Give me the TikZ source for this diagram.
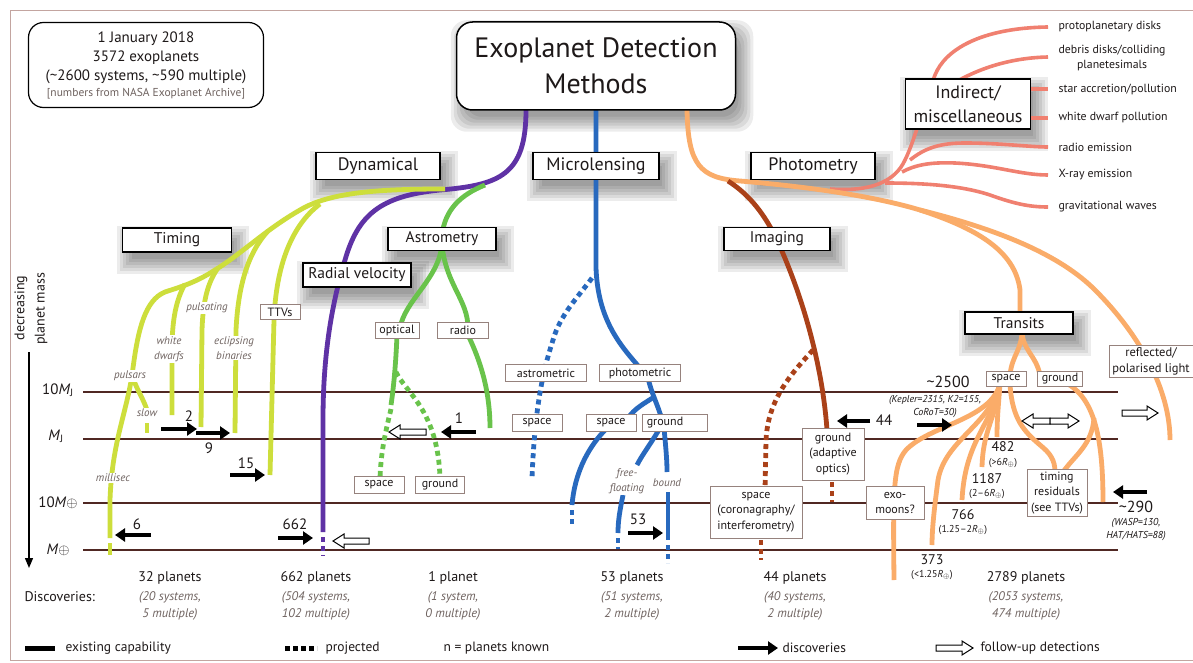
\documentclass[tikz,border=0pt]{standalone}
\usepackage{fontspec}
\setmainfont{PT Sans}
\usetikzlibrary{arrows.meta}
\pgfdeclarelayer{shadowlayer}
\pgfsetlayers{shadowlayer,main}
\definecolor{ylw}{RGB}{205,222,60}
\definecolor{prp}{RGB}{95,50,165}
\definecolor{grn}{RGB}{105,195,75}
\definecolor{blu}{RGB}{40,105,190}
\definecolor{brn}{RGB}{170,65,25}
\definecolor{org}{RGB}{250,172,105}
\definecolor{slm}{RGB}{240,128,112}
\definecolor{masscol}{RGB}{80,40,35}
\definecolor{labgray}{RGB}{110,98,95}
\definecolor{boxgray}{RGB}{150,130,125}
\definecolor{framecol}{RGB}{195,165,160}
\definecolor{txt}{RGB}{30,25,25}
\newcommand\hollowarr[3]{%
  \pgfmathsetmacro\myhd{(#2>#1)?11:-11}%
  \draw[hollow] ({#1},{#3-3}) -- ({#2-\myhd},{#3-3}) -- ({#2-\myhd},{#3-7}) -- ({#2},{#3}) -- ({#2-\myhd},{#3+7}) -- ({#2-\myhd},{#3+3}) -- ({#1},{#3+3}) -- cycle;}
\newcommand\discarr[3]{\draw[discarrow] ({#1},{#3}) -- ({#2},{#3});}
\newcommand\discgroup[5]{%
  \node[discl] (#5a) at (#1,578) {#2};
  \node[discit] (#5b) at (#1,597) {#3};
  \node[discit] (#5c) at (#1,614) {#4};}
\tikzset{
  every node/.style={text=txt},
  massline/.style={draw=masscol, line width=1.1pt},
  ylwline/.style={draw=ylw, line width=4.8pt},
  prpline/.style={draw=prp, line width=4.8pt},
  grnline/.style={draw=grn, line width=4.8pt},
  bluline/.style={draw=blu, line width=4.8pt},
  brnline/.style={draw=brn, line width=4.8pt},
  orgline/.style={draw=org, line width=4.8pt},
  slmline/.style={draw=slm, line width=3.6pt},
  dots/.style={dash pattern=on 5pt off 4pt},
  bigbox/.style={draw=black, line width=1.3pt, fill=white, inner sep=0pt, align=center},
  bigA/.style={bigbox, font=\fontsize{18}{24}\selectfont},
  bigB/.style={bigbox, font=\fontsize{15.5}{18}\selectfont},
  smallbox/.style={draw=boxgray, line width=0.8pt, fill=white, inner sep=0pt, align=center, font=\fontsize{12}{15.5}\selectfont},
  itlab/.style={font=\fontsize{11}{15}\selectfont\itshape, text=labgray, fill=white, inner sep=1pt, align=center},
  num/.style={font=\fontsize{15}{18}\selectfont},
  snum/.style={font=\fontsize{14}{16}\selectfont},
  subl/.style={font=\fontsize{10}{12}\selectfont},
  notel/.style={font=\fontsize{10}{13}\selectfont\itshape, align=center},
  rlab/.style={font=\fontsize{11.8}{15}\selectfont, anchor=west, align=center},
  discl/.style={font=\fontsize{14}{17}\selectfont},
  discit/.style={font=\fontsize{12.5}{16}\selectfont\itshape, text=labgray},
  leg/.style={font=\fontsize{13.5}{16}\selectfont, anchor=west},
  discarrow/.style={line width=4.5pt, -{Triangle[length=10pt,width=13pt]}},
  hollow/.style={draw=black, line width=1pt, fill=white, line join=miter},
}
\begin{document}
\begin{tikzpicture}[x=1pt,y=-1pt,line cap=butt]
\useasboundingbox (0,0) rectangle (1193,663);
\draw[framecol, line width=0.9pt] (1193,10) -- (10,10) -- (10,660) -- (1193,660);

% mass levels
\foreach \yy in {392,439,503,550} { \draw[massline] (83,\yy) -- (1118,\yy); }
\node[font=\fontsize{15}{18}\selectfont] (m1) at (58,390) {10\textit{M}\textsubscript{J}};
\node[font=\fontsize{15}{18}\selectfont] (m2) at (56,436) {\textit{M}\textsubscript{J}};
\node[font=\fontsize{15}{18}\selectfont] (m3) at (58,503) {10\textit{M}$\oplus$};
\node[font=\fontsize{15}{18}\selectfont] (m4) at (58,550) {\textit{M}$\oplus$};
\node[font=\fontsize{14}{17}\selectfont, rotate=90] (ax1) at (21,308) {decreasing};
\node[font=\fontsize{14}{17}\selectfont, rotate=90] (ax2) at (41,309) {planet mass};
\draw[line width=1.3pt, -{Triangle[length=10pt,width=8pt]}] (29,352) -- (29,568);

% ---------- indirect (salmon)
\draw[slmline] (830,189) .. controls (870,192) and (895,182) .. (905,160) .. controls (915,140) and (925,100) .. (935,75) .. controls (945,50) and (980,28) .. (1048,27);
\draw[slmline] (930,100) .. controls (960,75) and (1000,58) .. (1048,57);
\draw[slmline] (1025,89) -- (1048,89);
\draw[slmline] (1025,118) -- (1048,118);
\draw[slmline] (910,160) .. controls (925,148) and (940,143) .. (965,143) .. controls (1000,143) and (1030,147) .. (1048,147);
\draw[slmline] (902,172) .. controls (915,165) and (930,162) .. (955,163) .. controls (995,165) and (1020,175) .. (1048,175);
\draw[slmline] (885,183) .. controls (920,183) and (960,185) .. (990,195) .. controls (1015,204) and (1030,207) .. (1048,207);

% ---------- purple (radial velocity)
\draw[prpline] (526,110) .. controls (526,175) and (500,185) .. (440,190) .. controls (380,196) and (358,215) .. (345,260) .. controls (333,300) and (323,350) .. (323,420) -- (323,532);
\draw[prpline,dots] (323,537) -- (323,556);

% ---------- yellow (timing)
\draw[ylwline] (445,189) .. controls (380,189) and (330,192) .. (300,210) .. controls (265,230) and (240,255) .. (215,270) .. controls (195,283) and (180,287) .. (165,292) .. controls (145,300) and (138,330) .. (133,368) .. controls (128,410) and (112,440) .. (110,500) -- (110,538);
\draw[ylwline] (110,543) -- (110,555);
\draw[ylwline] (133,378) .. controls (137,390) and (143,398) .. (147,410);
\draw[ylwline] (147,423) -- (147,433);
\draw[ylwline] (185,284) .. controls (176,300) and (172,320) .. (172,350) -- (172,415);
\draw[ylwline] (218,268) .. controls (208,282) and (203,300) .. (202,330) -- (201,427);
\draw[ylwline] (268,231) .. controls (246,255) and (238,290) .. (236,330) -- (235,433);
\draw[ylwline] (320,204) .. controls (292,225) and (276,265) .. (274,320) -- (270,475);

% ---------- green (astrometry)
\draw[grnline] (485,185) .. controls (460,195) and (445,210) .. (442,235);
\draw[grnline] (442,245) .. controls (438,280) and (405,300) .. (400,328);
\draw[grnline] (442,245) .. controls (446,285) and (468,300) .. (468,328);
\draw[grnline] (397,335) .. controls (396,360) and (394,385) .. (391,405);
\draw[grnline,dots] (391,409) .. controls (386,430) and (381,450) .. (380,478);
\draw[grnline,dots] (396,372) .. controls (405,392) and (438,410) .. (440,478);
\draw[grnline] (468,335) .. controls (480,360) and (490,390) .. (490,428);

% ---------- blue (microlensing)
\draw[bluline] (596,110) -- (596,268) .. controls (598,320) and (620,345) .. (640,368);
\draw[bluline,dots] (592,278) .. controls (578,297) and (560,315) .. (553,340) .. controls (545,365) and (535,400) .. (532,478);
\draw[bluline] (648,378) .. controls (652,395) and (658,405) .. (662,420);
\draw[bluline] (654,397) .. controls (645,403) and (635,408) .. (628,418);
\draw[bluline] (607,428) .. controls (590,445) and (575,470) .. (572,505);
\draw[bluline,dots] (572,510) -- (572,527);
\draw[bluline] (660,428) .. controls (650,445) and (642,455) .. (637,465);
\draw[bluline] (623,495) .. controls (620,510) and (618,520) .. (618,533);
\draw[bluline,dots] (618,538) -- (618,549);
\draw[bluline] (664,428) .. controls (666,450) and (667,460) .. (667,472);
\draw[bluline] (668,492) -- (668,540);
\draw[bluline,dots] (668,545) -- (668,563);

% ---------- orange (photometry / transits)
\draw[orgline] (687,110) .. controls (688,165) and (700,178) .. (740,181) .. controls (800,186) and (870,195) .. (920,210) .. controls (975,228) and (1015,250) .. (1020,290) -- (1020,315);
\draw[orgline] (920,210) .. controls (1000,230) and (1060,255) .. (1095,290) .. controls (1140,335) and (1170,390) .. (1170,440);
\draw[orgline] (1022,330) .. controls (1022,350) and (1012,355) .. (1010,375);
\draw[orgline] (1022,330) .. controls (1022,350) and (1036,355) .. (1040,375);
\draw[orgline] (1000,384) .. controls (990,420) and (930,425) .. (906,450) .. controls (893,465) and (893,490) .. (894,580);
\draw[orgline] (1000,384) .. controls (990,425) and (945,440) .. (938,480) .. controls (934,510) and (932,530) .. (932,545);
\draw[orgline] (1000,384) .. controls (992,425) and (965,440) .. (962,500);
\draw[orgline] (1000,384) .. controls (995,420) and (983,430) .. (982,467);
\draw[orgline] (1000,384) .. controls (998,410) and (997,420) .. (997,437);
\draw[orgline] (1010,384) .. controls (1012,420) and (1025,432) .. (1040,445) .. controls (1050,453) and (1055,460) .. (1055,472);
\draw[orgline] (1068,384) .. controls (1095,400) and (1103,440) .. (1103,502);
\draw[orgline] (1094,418) .. controls (1092,445) and (1075,455) .. (1063,472);

% ---------- brown (imaging)
\draw[brnline] (728,181) .. controls (750,195) and (765,215) .. (777,240) .. controls (800,290) and (822,360) .. (827,430);
\draw[brnline,dots] (813,350) .. controls (790,375) and (768,400) .. (766,440) -- (765,490);
\draw[brnline,dots] (761,540) -- (761,560);
\draw[brnline,dots] (832,482) -- (832,502);

% ---------- boxes
\node[draw=black, line width=1.2pt, rounded corners=15pt, fill=white, minimum width=235pt, minimum height=85pt, inner sep=0pt, align=center, font=\fontsize{15}{19}\selectfont] (info) at (146,65)
  {1 January 2018\\3572 exoplanets\\(\textasciitilde2600 systems, \textasciitilde590 multiple)\\[-3pt]{\color{labgray}\fontsize{11.5}{14}\selectfont[numbers from NASA Exoplanet Archive]}};
\node[bigbox, line width=1.5pt, rounded corners=16pt, minimum width=279pt, minimum height=88pt, font=\fontsize{28}{36}\selectfont] (title) at (596,66) {Exoplanet Detection\\Methods};
\node[bigA, minimum width=124pt, minimum height=27pt] (dyn) at (378,166) {Dynamical};
\node[bigA, minimum width=126pt, minimum height=27pt] (micro) at (596,166) {Microlensing};
\node[bigA, minimum width=124pt, minimum height=27pt] (photo) at (813,166) {Photometry};
\node[bigA, minimum width=125pt, minimum height=50pt] (indirect) at (968,104) {Indirect/\\miscellaneous};
\node[bigB, minimum width=109pt, minimum height=24pt] (timing) at (177,240) {Timing};
\node[bigB, minimum width=108pt, minimum height=23pt] (astro) at (442,239) {Astrometry};
\node[bigB, minimum width=108pt, minimum height=24pt] (rv) at (357,275) {Radial velocity};
\node[bigB, minimum width=106pt, minimum height=23pt] (imaging) at (777,239) {Imaging};
\node[bigB, minimum width=108pt, minimum height=22pt] (transits) at (1019,323) {Transits};

\node[smallbox, minimum width=40pt, minimum height=15pt] (ttvs) at (280,312) {TTVs};
\node[smallbox, minimum width=44pt, minimum height=16pt] (optical) at (397,330) {optical};
\node[smallbox, minimum width=51pt, minimum height=16pt] (radio) at (463,330) {radio};
\node[smallbox, minimum width=50pt, minimum height=17pt] (aspace) at (379,485) {space};
\node[smallbox, minimum width=49pt, minimum height=17pt] (aground) at (440,485) {ground};
\node[smallbox, minimum width=81pt, minimum height=17pt] (astrometric) at (546,373) {astrometric};
\node[smallbox, minimum width=81pt, minimum height=17pt] (photometric) at (640,373) {photometric};
\node[smallbox, minimum width=50pt, minimum height=17pt] (mspace1) at (537,423) {space};
\node[smallbox, minimum width=50pt, minimum height=17pt] (mspace2) at (611,423) {space};
\node[smallbox, minimum width=65pt, minimum height=17pt] (mground) at (675,423) {ground\hspace{20pt}};
\node[smallbox, minimum width=62pt, minimum height=52pt] (iground) at (833,454) {ground\\(adaptive\\optics)};
\node[smallbox, minimum width=92pt, minimum height=52pt] (ispace) at (756,512) {space\\(coronagraphy/\\interferometry)};
\node[smallbox, minimum width=40pt, minimum height=15pt] (tspace) at (1006,379) {space};
\node[smallbox, minimum width=45pt, minimum height=15pt] (tground) at (1060,379) {ground};
\node[smallbox, minimum width=58pt, minimum height=33pt] (exomoons) at (895,503) {exo-\\moons?};
\node[smallbox, minimum width=60pt, minimum height=47pt] (timres) at (1057,493) {timing\\residuals\\(see TTVs)};
\node[smallbox, minimum width=84pt, minimum height=32pt, font=\fontsize{12.5}{16}\selectfont] (reflected) at (1151,361) {reflected/\\polarised light};

% ---------- indirect labels
\node[rlab] (r1) at (1055,27) {protoplanetary disks};
\node[rlab] (r2) at (1055,58) {debris disks/colliding\\planetesimals};
\node[rlab] (r3) at (1055,89) {star accretion/pollution};
\node[rlab] (r4) at (1055,118) {white dwarf pollution};
\node[rlab] (r5) at (1055,147) {radio emission};
\node[rlab] (r6) at (1055,175) {X-ray emission};
\node[rlab] (r7) at (1055,207) {gravitational waves};

% ---------- italic branch labels
\node[itlab] (lpuls) at (130,376) {pulsars};
\node[itlab] (lslow) at (147,413) {slow};
\node[itlab] (lwd) at (169,349) {white\\dwarfs};
\node[itlab] (lpulsating) at (207,308) {pulsating};
\node[itlab] (lecl) at (234,348) {eclipsing\\binaries};
\node[itlab] (lmilli) at (113,478) {millisec};
\node[itlab] (lfree) at (627,481) {free-\\floating};
\node[itlab] (lbound) at (667,483) {bound};

% ---------- discovery arrows and numbers
\discarr{161}{197}{429} \node[num] (n2) at (189,416) {2};
\discarr{196}{230}{433} \node[num] (n9) at (209,448) {9};
\discarr{230}{265}{475} \node[num] (n15) at (246,463) {15};
\discarr{151}{115}{535} \node[num] (n6) at (137,524) {6};
\discarr{278}{313}{538} \node[num] (n662) at (295,524) {662};
\discarr{476}{441}{432} \node[num] (n1) at (459,418) {1};
\discarr{628}{663}{533} \node[num] (n53) at (638,519) {53};
\discarr{870}{837}{421} \node[num] (n44) at (884,420) {44};
\discarr{917}{952}{425}
\discarr{1147}{1113}{492}
\hollowarr{369}{333}{541}
\hollowarr{426}{389}{432}
\hollowarr{1050}{1022}{421}
\hollowarr{1050}{1079}{421}
\hollowarr{1122}{1158}{413}

% ---------- transit numbers
\node[font=\fontsize{16}{19}\selectfont] (n2500) at (948,382) {\textasciitilde2500};
\node[notel] (kep) at (935,407) {(Kepler=2315, K2=155,\\CoRoT=30)};
\node[snum] (n482) at (1003,447) {482};
\node[subl] (s482) at (1003,463) {(>6\textit{R}$_{\oplus}$)};
\node[snum] (n1187) at (987,479) {1187};
\node[subl] (s1187) at (987,494) {(2--6\textit{R}$_{\oplus}$)};
\node[snum] (n766) at (963,515) {766};
\node[subl] (s766) at (963,530) {(1.25--2\textit{R}$_{\oplus}$)};
\node[snum] (n373) at (932,560) {373};
\node[subl] (s373) at (932,575) {(<1.25\textit{R}$_{\oplus}$)};
\node[font=\fontsize{16}{19}\selectfont] (n290) at (1136,507) {\textasciitilde290};
\node[notel] (wasp) at (1136,530) {(WASP=130,\\HAT/HATS=88)};

% ---------- discoveries row
\node[discl, anchor=west] (disc) at (21,597) {Discoveries:};
\discgroup{170}{32 planets}{(20 systems,}{5 multiple)}{d1}
\discgroup{316}{662 planets}{(504 systems,}{102 multiple)}{d2}
\discgroup{453}{1 planet}{(1 system,}{0 multiple)}{d3}
\discgroup{632}{53 planets}{(51 systems,}{2 multiple)}{d4}
\discgroup{795}{44 planets}{(40 systems,}{2 multiple)}{d5}
\discgroup{1026}{2789 planets}{(2053 systems,}{474 multiple)}{d6}

% ---------- legend
\draw[line width=5pt] (25,648) coordinate (lg1) -- (55,648) coordinate (lg2);
\node[leg] (lgt1) at (62,648) {existing capability};
\draw[line width=5pt, dash pattern=on 5pt off 3pt] (285,648) coordinate (lg3) -- (317,648) coordinate (lg4);
\node[leg] (lgt2) at (322,648) {projected};
\node[leg] (lgt3) at (440,648) {n = planets known};
\discarr{738}{778}{648}
\node[leg] (lgt4) at (779,648) {discoveries};
\hollowarr{936}{973}{648}
\node[leg] (lgt5) at (977,648) {follow-up detections};

% ---------- white page and soft shadows (bottom layer)
\begin{pgfonlayer}{shadowlayer}
\fill[white] (0,0) rectangle (1193,663);
\foreach \n in {dyn,micro,photo,indirect,timing,astro,rv,imaging,transits} {
  \foreach \e in {-4,-1,2,5,8,11} {
    \fill[black, opacity=0.075] ([xshift={(6-\e)*1pt}, yshift={(-10-\e)*1pt}]\n.south west) rectangle ([xshift={(6+\e)*1pt}, yshift={(-10+\e)*1pt}]\n.north east);
  }
}
\foreach \e in {-4,-1,2,5,8,11} {
  \fill[black, opacity=0.075, rounded corners=16pt] ([xshift={(6-\e)*1pt}, yshift={(-10-\e)*1pt}]title.south west) rectangle ([xshift={(6+\e)*1pt}, yshift={(-10+\e)*1pt}]title.north east);
}
\end{pgfonlayer}
\end{tikzpicture}
\end{document}
